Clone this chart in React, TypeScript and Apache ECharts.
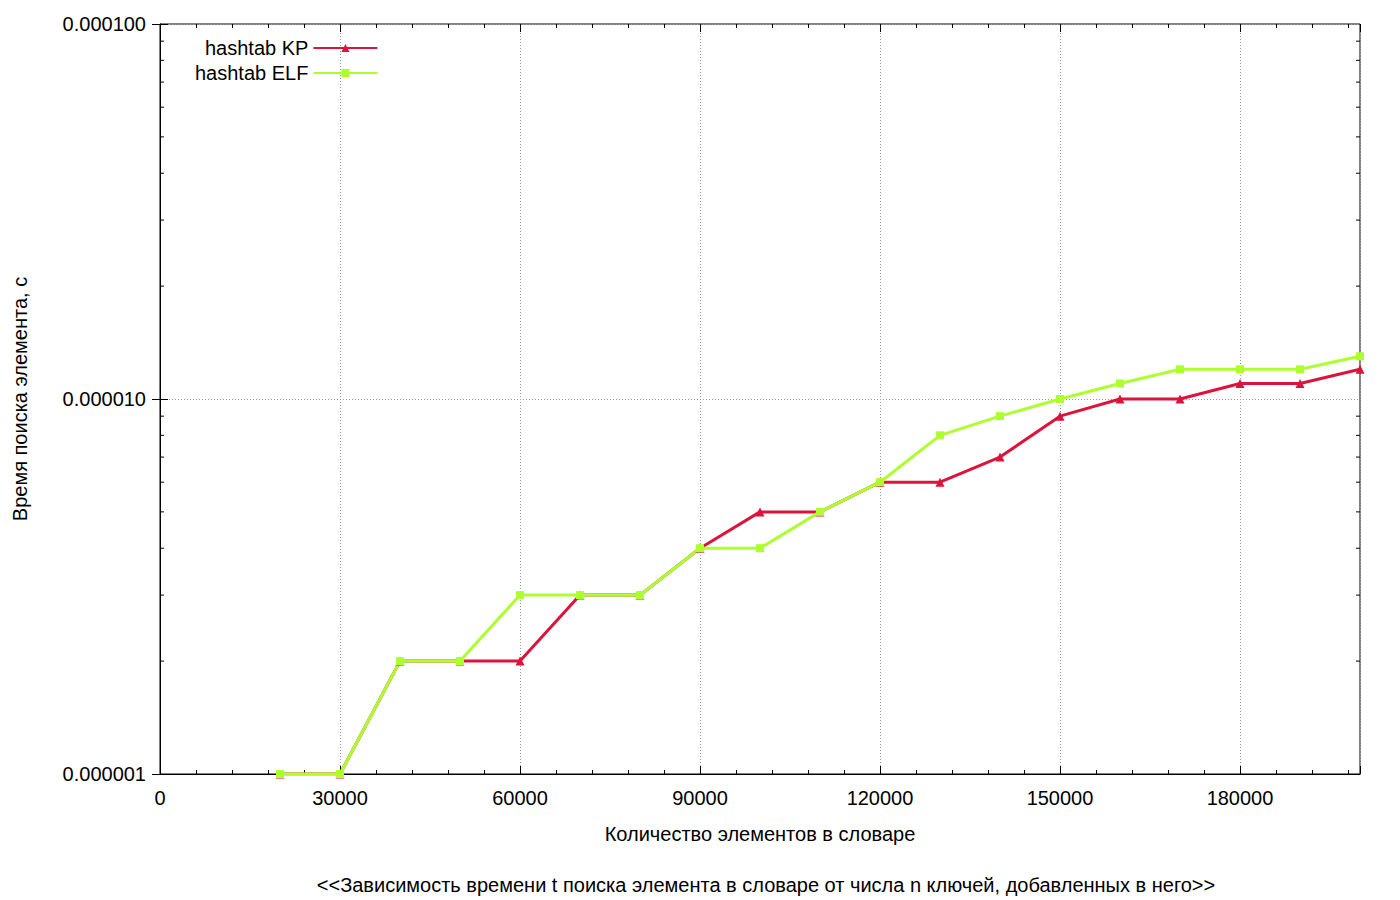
import { useEffect, useRef } from 'react';
import * as echarts from 'echarts';

const xValues = [20000, 30000, 40000, 50000, 60000, 70000, 80000, 90000, 100000, 110000, 120000, 130000, 140000, 150000, 160000, 170000, 180000, 190000, 200000];
const kpValues = [1e-6, 1e-6, 2e-6, 2e-6, 2e-6, 3e-6, 3e-6, 4e-6, 5e-6, 5e-6, 6e-6, 6e-6, 7e-6, 9e-6, 1e-5, 1e-5, 1.1e-5, 1.1e-5, 1.2e-5];
const elfValues = [1e-6, 1e-6, 2e-6, 2e-6, 3e-6, 3e-6, 3e-6, 4e-6, 4e-6, 5e-6, 6e-6, 8e-6, 9e-6, 1e-5, 1.1e-5, 1.2e-5, 1.2e-5, 1.2e-5, 1.3e-5];
const minorY = [2e-6, 3e-6, 4e-6, 5e-6, 6e-6, 7e-6, 8e-6, 9e-6, 2e-5, 3e-5, 4e-5, 5e-5, 6e-5, 7e-5, 8e-5, 9e-5];

const font = 'Liberation Sans, Arial, sans-serif';
const fs = 20;

export default function App() {
  const chartRef = useRef<HTMLDivElement>(null);

  useEffect(() => {
    document.body.style.margin = '0';
    if (!chartRef.current) return;
    const chart = echarts.init(chartRef.current, null, { renderer: 'svg' });

    const option: echarts.EChartsOption = {
      animation: false,
      textStyle: { fontFamily: font },
      grid: { left: 160, right: 40, top: 24, bottom: 126, show: true, borderColor: '#000', borderWidth: 1 },
      title: {
        text: '<<Зависимость времени t поиска элемента в словаре от числа n ключей, добавленных в него>>',
        left: 761, top: 870, textAlign: 'center',
        textStyle: { fontFamily: font, fontSize: fs, fontWeight: 'normal', color: '#000' },
      },
      legend: {
        left: 190, top: 33, orient: 'vertical', align: 'right', itemWidth: 64, itemHeight: 10, itemGap: 5,
        textStyle: { fontFamily: font, fontSize: fs, color: '#000' },
        data: ['hashtab KP', 'hashtab ELF'],
      },
      xAxis: [{
        type: 'value', min: 0, max: 200000, interval: 30000,
        name: 'Количество элементов в словаре', nameLocation: 'middle', nameGap: 50,
        nameTextStyle: { fontFamily: font, fontSize: fs, color: '#000' },
        axisLine: { lineStyle: { color: '#000' } },
        axisTick: { inside: true, length: 8, lineStyle: { color: '#000' } },
        minorTick: { show: true, splitNumber: 5, length: 4, lineStyle: { color: '#000' } },
        axisLabel: { fontSize: fs, color: '#000', margin: 14, showMaxLabel: false, formatter: (v: number) => String(v) },
        splitLine: { show: true, lineStyle: { color: '#999', type: [1, 2] } },
      }, {
        type: 'value', position: 'top', min: 0, max: 200000, interval: 30000,
        axisLine: { show: false }, axisLabel: { show: false }, splitLine: { show: false },
        axisTick: { inside: true, length: 8, lineStyle: { color: '#000' } },
        minorTick: { show: true, splitNumber: 5, length: 4, lineStyle: { color: '#000' } },
      }],
      yAxis: [{
        type: 'log', logBase: 10, min: 1e-6, max: 1e-4,
        name: 'Время поиска элемента, с', nameLocation: 'middle', nameGap: 130,
        nameTextStyle: { fontFamily: font, fontSize: fs, color: '#000' },
        axisLine: { lineStyle: { color: '#000' } },
        axisTick: { inside: true, length: 8, lineStyle: { color: '#000' } },
        axisLabel: { fontSize: fs, color: '#000', margin: 14, formatter: (v: number) => v.toFixed(6) },
        splitLine: { show: true, lineStyle: { color: '#999', type: [1, 2] } },
      }, {
        type: 'log', logBase: 10, min: 1e-6, max: 1e-4, position: 'right',
        axisLine: { show: false }, axisLabel: { show: false }, splitLine: { show: false },
        axisTick: { inside: true, length: 8, lineStyle: { color: '#000' } },
      }],
      series: [
        {
          name: 'hashtab KP', type: 'line', data: xValues.map((x, i) => [x, kpValues[i]]),
          symbol: 'triangle', symbolSize: 9, color: '#dc143c', lineStyle: { width: 3, color: '#dc143c' },
        },
        {
          name: 'hashtab ELF', type: 'line', data: xValues.map((x, i) => [x, elfValues[i]]),
          symbol: 'rect', symbolSize: 8, color: '#adff2f', lineStyle: { width: 3, color: '#adff2f' },
        },
        {
          type: 'custom', silent: true, data: minorY.map(v => [0, v]),
          renderItem: (params: any, api: any) => {
            const p = api.coord([0, api.value(1)]);
            const cs = params.coordSys;
            return {
              type: 'group',
              children: [
                { type: 'line', shape: { x1: cs.x, y1: p[1], x2: cs.x + 4, y2: p[1] }, style: { stroke: '#000', lineWidth: 1 } },
                { type: 'line', shape: { x1: cs.x + cs.width - 4, y1: p[1], x2: cs.x + cs.width, y2: p[1] }, style: { stroke: '#000', lineWidth: 1 } },
              ],
            };
          },
        },
      ],
    };

    chart.setOption(option);
    return () => chart.dispose();
  }, []);

  return <div ref={chartRef} style={{ width: 1400, height: 900 }} />;
}
